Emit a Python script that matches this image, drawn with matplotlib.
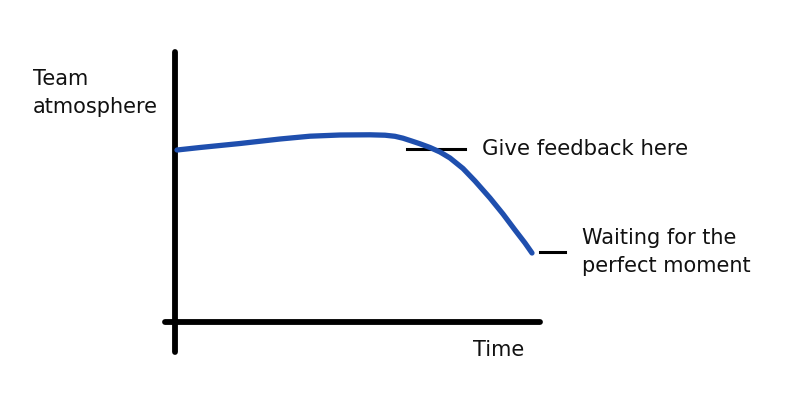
import matplotlib
matplotlib.use("Agg")
import matplotlib.pyplot as plt

# Curve of team atmosphere over time (read in pixel-space of the reference)
curve_x = [177, 200, 240, 280, 310, 340, 370, 385, 395, 403, 411, 420, 430,
           440, 450, 463, 475, 490, 503, 515, 525, 532]
curve_y = [150, 147.5, 143.5, 139, 136.2, 135, 134.8, 135.2, 136.3, 138.2,
           140.8, 143.8, 147.5, 152, 158, 168.5, 181, 198, 214, 230, 243, 253]

y_label = "Team\natmosphere"
x_label = "Time"
note_feedback = "Give feedback here"
note_waiting = "Waiting for the\nperfect moment"

fig = plt.figure(figsize=(8, 4), dpi=100)
ax = fig.add_axes([0, 0, 1, 1])
ax.set_xlim(0, 800)
ax.set_ylim(400, 0)
ax.axis("off")

FONT = "DejaVu Sans"
TXT = "#111111"

# Axes drawn by hand
ax.plot([175, 175], [52, 352], color="black", lw=4.2, solid_capstyle="round")
ax.plot([165, 540], [322, 322], color="black", lw=4.2, solid_capstyle="round")

# Annotation ticks
ax.plot([407, 465], [149, 149], color="black", lw=2.2)
ax.plot([540, 565], [252, 252], color="black", lw=2.2)

# Curve
ax.plot(curve_x, curve_y, color="#1f4fae", lw=3.8, solid_capstyle="round",
        solid_joinstyle="round")

# Texts
ax.text(33, 93, y_label, fontsize=15, family=FONT, color=TXT, va="center",
        ha="left", linespacing=1.5)
ax.text(482, 149, note_feedback, fontsize=15.3, family=FONT, color=TXT,
        va="center", ha="left")
ax.text(582, 252, note_waiting, fontsize=15, family=FONT, color=TXT,
        va="center", ha="left", linespacing=1.5)
ax.text(473, 350, x_label, fontsize=15, family=FONT, color=TXT, va="center",
        ha="left")

fig.savefig("out.png", dpi=100, facecolor="white")
